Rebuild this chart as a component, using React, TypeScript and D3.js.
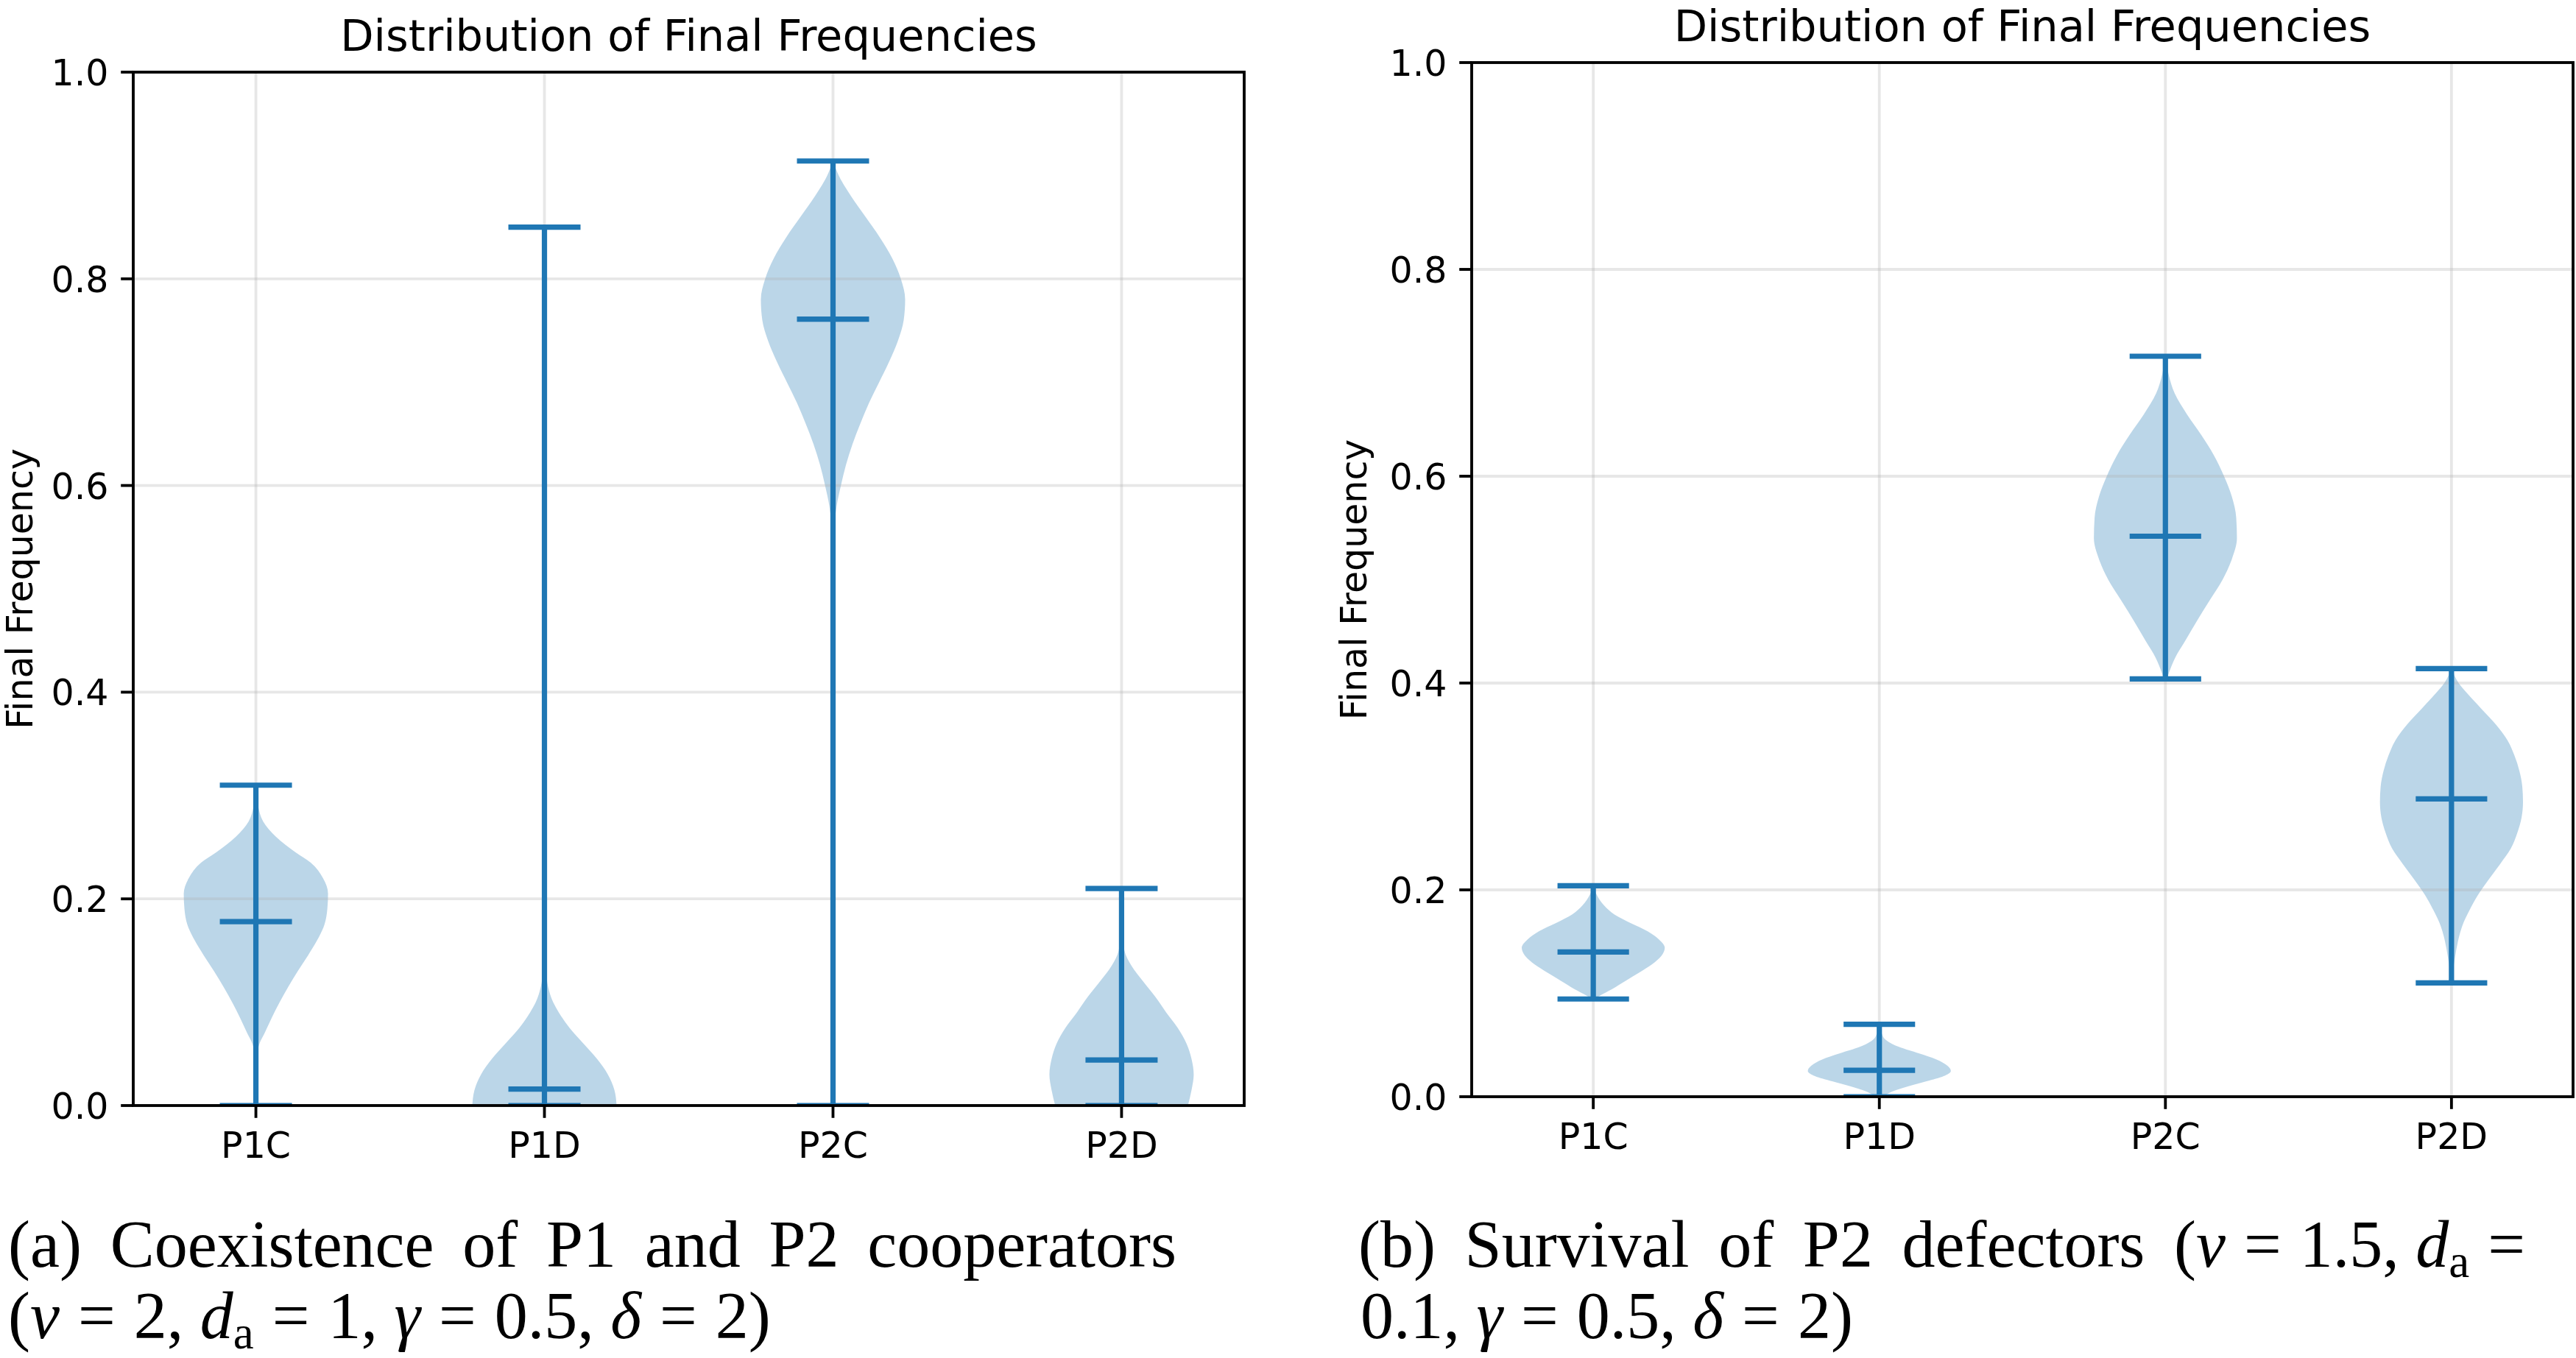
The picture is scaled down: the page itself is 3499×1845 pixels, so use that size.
import React from 'react';
import * as d3 from 'd3';

// ---------- data ----------
const categories = ['P1C', 'P1D', 'P2C', 'P2D'];
const yTicks = [0, 0.2, 0.4, 0.6, 0.8, 1.0];
const xDomain: [number, number] = [0.575, 4.425];

// Panel (a): coexistence of P1 and P2 cooperators
const meansA = [0.178, 0.016, 0.761, 0.044];
const minsA = [0, 0, 0, 0];
const maxesA = [0.31, 0.85, 0.914, 0.21];

// Violin outlines: [frequency, relative density (1 = widest)]
const violinA_P1C: [number, number][] = [
  [0.31, 0], [0.29, 0.03], [0.275, 0.1], [0.26, 0.28], [0.245, 0.55], [0.235, 0.76],
  [0.22, 0.93], [0.205, 1.0], [0.19, 0.99], [0.175, 0.95], [0.16, 0.85], [0.145, 0.72],
  [0.13, 0.58], [0.115, 0.45], [0.1, 0.33], [0.085, 0.22], [0.07, 0.12], [0.06, 0.05],
  [0.05, 0.02], [0.03, 0.005], [0, 0],
];
const violinA_P1D: [number, number][] = [
  [0.85, 0], [0.2, 0], [0.15, 0.005], [0.13, 0.02], [0.115, 0.05], [0.1, 0.12],
  [0.09, 0.2], [0.075, 0.35], [0.06, 0.54], [0.045, 0.73], [0.03, 0.88],
  [0.015, 0.97], [0, 1.0],
];
const violinA_P2C: [number, number][] = [
  [0.914, 0], [0.9, 0.08], [0.88, 0.25], [0.86, 0.45], [0.84, 0.65], [0.82, 0.82],
  [0.8, 0.94], [0.78, 1.0], [0.76, 0.98], [0.74, 0.9], [0.72, 0.78], [0.7, 0.64],
  [0.68, 0.5], [0.66, 0.38], [0.64, 0.27], [0.62, 0.18], [0.6, 0.11], [0.58, 0.05],
  [0.56, 0.015], [0.54, 0], [0, 0],
];
const violinA_P2D: [number, number][] = [
  [0.21, 0], [0.17, 0.01], [0.15, 0.04], [0.135, 0.14], [0.12, 0.3], [0.105, 0.47],
  [0.09, 0.62], [0.075, 0.78], [0.06, 0.9], [0.045, 0.97], [0.03, 1.0], [0.015, 0.97],
  [0, 0.92],
];

// Panel (b): survival of P2 defectors
const meansB = [0.14, 0.0255, 0.542, 0.288];
const minsB = [0.0945, 0, 0.404, 0.11];
const maxesB = [0.204, 0.07, 0.716, 0.414];

const violinB_P1C: [number, number][] = [
  [0.204, 0], [0.195, 0.05], [0.185, 0.15], [0.176, 0.3], [0.168, 0.52], [0.16, 0.76],
  [0.152, 0.92], [0.144, 1.0], [0.136, 0.95], [0.128, 0.82], [0.12, 0.64],
  [0.112, 0.45], [0.104, 0.26], [0.098, 0.1], [0.0945, 0.02],
];
const violinB_P1D: [number, number][] = [
  [0.07, 0], [0.062, 0.03], [0.055, 0.09], [0.048, 0.28], [0.042, 0.55], [0.036, 0.8],
  [0.03, 0.95], [0.025, 1.0], [0.02, 0.9], [0.015, 0.66], [0.01, 0.4], [0.005, 0.18],
  [0, 0.05],
];
const violinB_P2C: [number, number][] = [
  [0.716, 0], [0.7, 0.04], [0.68, 0.13], [0.66, 0.3], [0.64, 0.5], [0.62, 0.68],
  [0.6, 0.82], [0.58, 0.93], [0.56, 0.99], [0.54, 1.0], [0.52, 0.93], [0.5, 0.8],
  [0.48, 0.62], [0.46, 0.44], [0.44, 0.27], [0.425, 0.14], [0.41, 0.05], [0.404, 0.02],
];
const violinB_P2D: [number, number][] = [
  [0.414, 0], [0.4, 0.1], [0.39, 0.22], [0.375, 0.42], [0.36, 0.62], [0.345, 0.78],
  [0.33, 0.88], [0.315, 0.95], [0.3, 0.99], [0.285, 1.0], [0.27, 0.98], [0.255, 0.92],
  [0.24, 0.83], [0.225, 0.68], [0.21, 0.52], [0.195, 0.37], [0.18, 0.25], [0.165, 0.15],
  [0.15, 0.09], [0.135, 0.05], [0.12, 0.02], [0.11, 0.01],
];

const titleText = 'Distribution of Final Frequencies';
const yLabelText = 'Final Frequency';

// ---------- styles ----------
const C0 = '#1f77b4';
const SANS = '"DejaVu Sans", Verdana, sans-serif';
const SERIF = '"Liberation Serif", "Times New Roman", serif';
const TICK_FS = 49;
const TITLE_FS = 59;
const SPINE_W = 3.84;
const TICK_LEN = 16.8;
const LINE_W = 7.2;
const CAP_FS = 90;

type PanelLayout = {
  id: string;
  left: number;
  top: number;
  width: number;
  height: number;
  titleY: number;
  yLabelX: number;
};

const layoutA: PanelLayout = { id: 'a', left: 181, top: 98, width: 1509, height: 1404, titleY: 69, yLabelX: 44 };
const layoutB: PanelLayout = { id: 'b', left: 1999, top: 85, width: 1496, height: 1405, titleY: 56, yLabelX: 1856 };

type PanelProps = {
  layout: PanelLayout;
  means: number[];
  mins: number[];
  maxes: number[];
  violins: [number, number][][];
};

function Panel({ layout, means, mins, maxes, violins }: PanelProps) {
  const { id, left, top, width, height } = layout;
  const x = d3.scaleLinear().domain(xDomain).range([left, left + width]);
  const y = d3.scaleLinear().domain([0, 1]).range([top + height, top]);
  const half = x(1.25) - x(1);
  const capHalf = x(1.125) - x(1);
  const clipId = `clip-${id}`;
  const bottom = top + height;
  const right = left + width;

  return (
    <g>
      <defs>
        <clipPath id={clipId}>
          <rect x={left} y={top} width={width} height={height} />
        </clipPath>
      </defs>
      <g clipPath={`url(#${clipId})`}>
        {/* violin bodies */}
        {violins.map((prof, i) => {
          const cx = x(i + 1);
          const area = d3
            .area<[number, number]>()
            .y((d) => y(d[0]))
            .x0((d) => cx - half * d[1])
            .x1((d) => cx + half * d[1])
            .curve(d3.curveMonotoneY);
          return <path key={i} d={area(prof) || ''} fill={C0} fillOpacity={0.3} stroke="none" />;
        })}
        {/* grid */}
        {yTicks.map((t) => (
          <line key={`gy${t}`} x1={left} x2={right} y1={y(t)} y2={y(t)} stroke="#b0b0b0" strokeOpacity={0.3} strokeWidth={SPINE_W} />
        ))}
        {categories.map((c, i) => (
          <line key={`gx${c}`} x1={x(i + 1)} x2={x(i + 1)} y1={top} y2={bottom} stroke="#b0b0b0" strokeOpacity={0.3} strokeWidth={SPINE_W} />
        ))}
        {/* bars, extrema and means */}
        {categories.map((c, i) => {
          const cx = x(i + 1);
          return (
            <g key={`l${c}`} stroke={C0} strokeWidth={LINE_W}>
              <line x1={cx} x2={cx} y1={y(mins[i])} y2={y(maxes[i])} />
              <line x1={cx - capHalf} x2={cx + capHalf} y1={y(maxes[i])} y2={y(maxes[i])} />
              <line x1={cx - capHalf} x2={cx + capHalf} y1={y(mins[i])} y2={y(mins[i])} />
              <line x1={cx - capHalf} x2={cx + capHalf} y1={y(means[i])} y2={y(means[i])} />
            </g>
          );
        })}
      </g>
      {/* spines */}
      <rect x={left} y={top} width={width} height={height} fill="none" stroke="#000" strokeWidth={SPINE_W} />
      {/* y ticks */}
      {yTicks.map((t) => (
        <g key={`yt${t}`}>
          <line x1={left - TICK_LEN} x2={left} y1={y(t)} y2={y(t)} stroke="#000" strokeWidth={SPINE_W} />
          <text x={left - 2 * TICK_LEN} y={y(t) + 18} textAnchor="end" fontFamily={SANS} fontSize={TICK_FS} fill="#000">
            {t.toFixed(1)}
          </text>
        </g>
      ))}
      {/* x ticks */}
      {categories.map((c, i) => (
        <g key={`xt${c}`}>
          <line x1={x(i + 1)} x2={x(i + 1)} y1={bottom} y2={bottom + TICK_LEN} stroke="#000" strokeWidth={SPINE_W} />
          <text x={x(i + 1)} y={bottom + 71} textAnchor="middle" fontFamily={SANS} fontSize={TICK_FS} fill="#000">
            {c}
          </text>
        </g>
      ))}
      <text x={(left + right) / 2} y={layout.titleY} textAnchor="middle" fontFamily={SANS} fontSize={TITLE_FS} fill="#000">
        {titleText}
      </text>
      <text
        transform={`translate(${layout.yLabelX},${(top + bottom) / 2}) rotate(-90)`}
        textAnchor="middle"
        fontFamily={SANS}
        fontSize={TICK_FS}
        fill="#000"
      >
        {yLabelText}
      </text>
    </g>
  );
}

// ---------- captions ----------
type Run = { t?: string; k: 'r' | 'i' | 's' | 'g'; em?: number };

const measureCtx = typeof document !== 'undefined' ? document.createElement('canvas').getContext('2d') : null;

function runFont(r: Run) {
  const size = r.k === 's' ? CAP_FS * 0.7 : CAP_FS;
  return `${r.k === 'i' ? 'italic ' : ''}${size}px ${SERIF}`;
}

function runWidth(r: Run) {
  if (r.k === 'g') return (r.em || 0) * CAP_FS;
  if (!measureCtx) return (r.t || '').length * CAP_FS * 0.5;
  measureCtx.font = runFont(r);
  return measureCtx.measureText(r.t || '').width;
}

const itemWidth = (runs: Run[]) => runs.reduce((s, r) => s + runWidth(r), 0);

function drawRuns(runs: Run[], x0: number, baseline: number, key: string) {
  let x = x0;
  const out: React.ReactNode[] = [];
  runs.forEach((r, i) => {
    const w = runWidth(r);
    if (r.k !== 'g') {
      out.push(
        <text
          key={`${key}-${i}`}
          x={x}
          y={r.k === 's' ? baseline + CAP_FS * 0.15 : baseline}
          fontFamily={SERIF}
          fontStyle={r.k === 'i' ? 'italic' : 'normal'}
          fontSize={r.k === 's' ? CAP_FS * 0.7 : CAP_FS}
          fill="#000"
        >
          {r.t}
        </text>
      );
    }
    x += w;
  });
  return out;
}

function justified(items: Run[][], x0: number, x1: number, baseline: number, key: string) {
  const total = items.reduce((s, it) => s + itemWidth(it), 0);
  const gap = (x1 - x0 - total) / (items.length - 1);
  let x = x0;
  const out: React.ReactNode[] = [];
  items.forEach((it, i) => {
    out.push(...drawRuns(it, x, baseline, `${key}-${i}`));
    x += itemWidth(it) + gap;
  });
  return out;
}

const word = (t: string): Run[] => [{ t, k: 'r' }];
const eq: Run[] = [{ k: 'g', em: 0.278 }, { t: '=', k: 'r' }, { k: 'g', em: 0.278 }];
const sp: Run = { k: 'g', em: 0.25 };

const captionA1 = ['(a)', 'Coexistence', 'of', 'P1', 'and', 'P2', 'cooperators'];
const captionA2: Run[] = [
  { t: '(', k: 'r' }, { t: 'v', k: 'i' }, ...eq, { t: '2,', k: 'r' }, sp,
  { t: 'd', k: 'i' }, { t: 'a', k: 's' }, ...eq, { t: '1,', k: 'r' }, sp,
  { t: 'γ', k: 'i' }, ...eq, { t: '0.5,', k: 'r' }, sp,
  { t: 'δ', k: 'i' }, ...eq, { t: '2)', k: 'r' },
];
const captionB1 = ['(b)', 'Survival', 'of', 'P2', 'defectors'];
const captionB1Math: Run[] = [
  { t: '(', k: 'r' }, { t: 'v', k: 'i' }, ...eq, { t: '1.5,', k: 'r' }, sp,
  { t: 'd', k: 'i' }, { t: 'a', k: 's' }, { k: 'g', em: 0.278 }, { t: '=', k: 'r' },
];
const captionB2: Run[] = [
  { t: '0.1,', k: 'r' }, sp, { t: 'γ', k: 'i' }, ...eq, { t: '0.5,', k: 'r' }, sp,
  { t: 'δ', k: 'i' }, ...eq, { t: '2)', k: 'r' },
];

export default function App() {
  return (
    <svg
      width={3499}
      height={1845}
      viewBox="0 0 3499 1845"
      style={{ position: 'absolute', left: 0, top: 0, background: '#fff' }}
    >
      <rect x={0} y={0} width={3499} height={1845} fill="#fff" />
      <Panel
        layout={layoutA}
        means={meansA}
        mins={minsA}
        maxes={maxesA}
        violins={[violinA_P1C, violinA_P1D, violinA_P2C, violinA_P2D]}
      />
      <Panel
        layout={layoutB}
        means={meansB}
        mins={minsB}
        maxes={maxesB}
        violins={[violinB_P1C, violinB_P1D, violinB_P2C, violinB_P2D]}
      />
      {justified(captionA1.map(word), 11, 1598, 1721, 'a1')}
      {drawRuns(captionA2, 11, 1818, 'a2')}
      {justified([...captionB1.map(word), captionB1Math], 1845, 3430, 1721, 'b1')}
      {drawRuns(captionB2, 1848, 1818, 'b2')}
    </svg>
  );
}
